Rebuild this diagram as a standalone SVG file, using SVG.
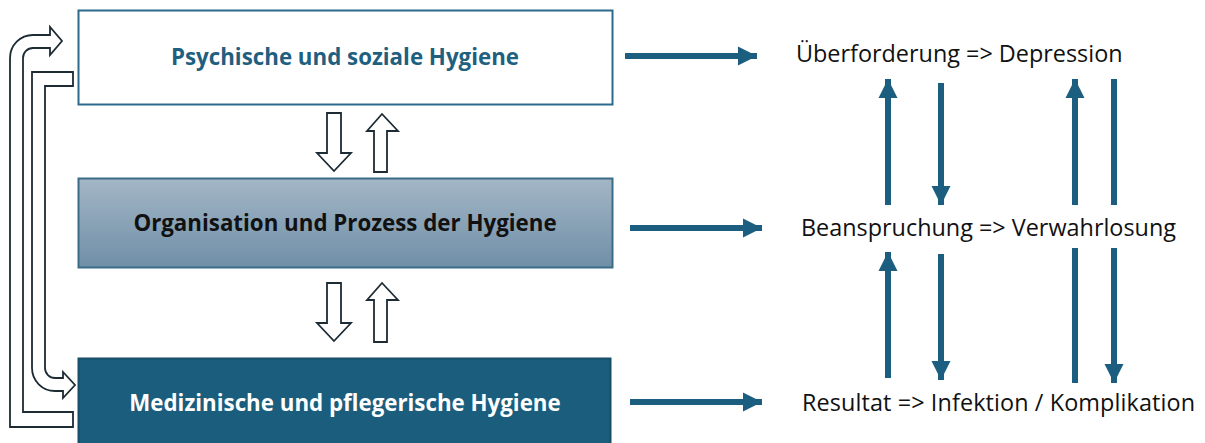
<svg xmlns="http://www.w3.org/2000/svg" width="1205" height="443" viewBox="0 0 1205 443">
  <defs>
    <linearGradient id="g2" x1="0" y1="0" x2="0" y2="1">
      <stop offset="0" stop-color="#a4b6c6"/>
      <stop offset="1" stop-color="#6f8fa7"/>
    </linearGradient>
    <marker id="ah" viewBox="0 0 10 10" refX="10" refY="5" markerWidth="3.2" markerHeight="3.2" orient="auto" markerUnits="strokeWidth">
      <path d="M0 0 L10 5 L0 10 Z" fill="#1b5e7f"/>
    </marker>
    <style>
      .box-t{font-family:"Open Sans","Noto Sans",sans-serif;font-weight:bold;font-size:22.3px;text-anchor:middle}
      .lbl{font-family:"Open Sans","Noto Sans",sans-serif;font-size:23.4px;fill:#111}
      .arr{stroke:#1b5e7f;stroke-width:6;fill:none}
      .hol{fill:#fff;stroke:#1d2b34;stroke-width:1.8;stroke-linejoin:miter}
    </style>
  </defs>
  <rect width="1205" height="443" fill="#fff"/>

  <g id="node-psych">
    <rect x="78.5" y="10.5" width="534" height="94" fill="#fff" stroke="#2b6a8a" stroke-width="2"/>
    <text class="box-t" x="345" y="65" fill="#1f5f80">Psychische und soziale Hygiene</text>
  </g>
  <g id="node-org">
    <rect x="78.5" y="178.5" width="534" height="89" fill="url(#g2)" stroke="#3a6c88" stroke-width="2"/>
    <text class="box-t" x="345" y="231" fill="#111">Organisation und Prozess der Hygiene</text>
  </g>
  <g id="node-med">
    <rect x="78.5" y="358.5" width="532" height="90" fill="#1a5d7c" stroke="#164e69" stroke-width="2"/>
    <text class="box-t" x="345" y="411" fill="#fff">Medizinische und pflegerische Hygiene</text>
  </g>

  <g id="node-ueber"><text class="lbl" x="796" y="62">Überforderung =&gt; Depression</text></g>
  <g id="node-bean"><text class="lbl" x="801" y="236">Beanspruchung =&gt; Verwahrlosung</text></g>
  <g id="node-res"><text class="lbl" x="802" y="411" textLength="393" lengthAdjust="spacing">Resultat =&gt; Infektion / Komplikation</text></g>

  <g id="connectors">
    <!-- left bracket arrows -->
    <path class="hol" d="M73 412 L23 412 L23 58 A10 10 0 0 1 33 48 L50 48 L50 55 L62 41 L50 27 L50 35 L33 35 A23 23 0 0 0 10 58 L10 427 L73 427 Z"/>
    <path class="hol" d="M73 72 L32 72 L32 368 A23 23 0 0 0 55 391 L63 391 L63 398 L75 385 L63 372 L63 378 L55 378 A10 10 0 0 1 45 368 L45 86 L73 86 Z"/>

    <!-- hollow vertical arrows -->
    <path class="hol" d="M327 113 L341 113 L341 153 L351 153 L334 171 L317 153 L327 153 Z"/>
    <path class="hol" d="M374 172 L387 172 L387 131 L398 131 L382 114 L367 131 L374 131 Z"/>
    <path class="hol" d="M327 283 L341 283 L341 323 L351 323 L334 341 L317 323 L327 323 Z"/>
    <path class="hol" d="M374 342 L387 342 L387 300 L398 300 L382 283 L367 300 L374 300 Z"/>

    <!-- horizontal arrows -->
    <line class="arr" x1="625" y1="56" x2="757" y2="56" marker-end="url(#ah)"/>
    <line class="arr" x1="630" y1="228" x2="762" y2="228" marker-end="url(#ah)"/>
    <line class="arr" x1="630" y1="402" x2="762" y2="402" marker-end="url(#ah)"/>

    <!-- vertical arrows upper -->
    <line class="arr" x1="888" y1="205" x2="888" y2="79" marker-end="url(#ah)"/>
    <line class="arr" x1="941" y1="83" x2="941" y2="205" marker-end="url(#ah)"/>
    <line class="arr" x1="1075" y1="205" x2="1075" y2="79" marker-end="url(#ah)"/>
    <line class="arr" x1="1114" y1="79" x2="1114" y2="205"/>
    <!-- vertical arrows lower -->
    <line class="arr" x1="888" y1="378" x2="888" y2="252" marker-end="url(#ah)"/>
    <line class="arr" x1="941" y1="254" x2="941" y2="380" marker-end="url(#ah)"/>
    <line class="arr" x1="1075" y1="248" x2="1075" y2="383"/>
    <line class="arr" x1="1114" y1="248" x2="1114" y2="383" marker-end="url(#ah)"/>
  </g>
</svg>
